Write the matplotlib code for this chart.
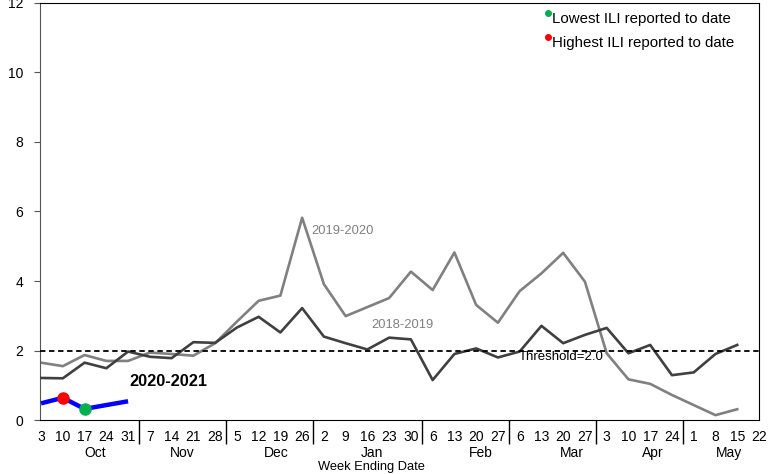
import matplotlib
matplotlib.use('Agg')
import matplotlib.pyplot as plt

# week labels (week ending date), Oct -> May
week_labels = ['3', '10', '17', '24', '31', '7', '14', '21', '28', '5', '12', '19', '26',
               '2', '9', '16', '23', '30', '6', '13', '20', '27', '6', '13', '20', '27',
               '3', '10', '17', '24', '1', '8', '15', '22']
months = ['Oct', 'Nov', 'Dec', 'Jan', 'Feb', 'Mar', 'Apr', 'May']
month_pos = [2.5, 6.5, 10.8, 15.2, 20.2, 24.4, 28.1, 31.6]
month_breaks = [4.5, 8.5, 12.5, 17.5, 21.5, 25.5, 29.5]

ili_2019_2020 = [1.65, 1.55, 1.87, 1.70, 1.70, 1.94, 1.90, 1.85, 2.21, 2.83, 3.43, 3.58, 5.82,
                 3.91, 2.99, 3.25, 3.51, 4.27, 3.74, 4.82, 3.31, 2.80, 3.71, 4.22, 4.81, 3.98,
                 1.92, 1.17, 1.04, 0.72, 0.43, 0.14, 0.31]
ili_2018_2019 = [1.21, 1.20, 1.65, 1.49, 1.97, 1.82, 1.78, 2.24, 2.22, 2.66, 2.97, 2.52, 3.22,
                 2.40, 2.21, 2.03, 2.37, 2.32, 1.15, 1.90, 2.06, 1.80, 1.97, 2.71, 2.21, 2.45,
                 2.65, 1.92, 2.16, 1.29, 1.37, 1.90, 2.16]
ili_2020_2021 = [0.48, 0.64, 0.32, 0.43, 0.54]
threshold = 2.0

plt.rcParams['font.family'] = ['Liberation Sans', 'DejaVu Sans']

fig = plt.figure(figsize=(7.81, 4.74), dpi=100)
ax = fig.add_axes([0.0512, 0.1139, 0.9206, 0.8798])

x_a = list(range(len(ili_2019_2020)))
x_b = list(range(len(ili_2018_2019)))
x_c = list(range(len(ili_2020_2021)))

ax.plot(x_a, ili_2019_2020, color='#808080', linewidth=1.9, zorder=2)
ax.plot(x_b, ili_2018_2019, color='#404040', linewidth=1.9, zorder=3)
ax.axhline(threshold, color='black', linestyle=(0, (3, 2)), linewidth=1.3, zorder=4)
ax.plot(x_c, ili_2020_2021, color='#0000FF', linewidth=3.2, zorder=5, solid_capstyle='butt')

# highest / lowest so far
i_hi = ili_2020_2021.index(max(ili_2020_2021))
i_lo = ili_2020_2021.index(min(ili_2020_2021))
ax.plot(i_hi, ili_2020_2021[i_hi], 'o', color='#FF0000', markersize=8, zorder=6)
ax.plot(i_lo, ili_2020_2021[i_lo], 'o', color='#00B050', markersize=8, zorder=6)

# series labels
ax.text(12.4, 5.45, '2019-2020', color='#808080', fontsize=9.3, va='center')
ax.text(15.2, 2.72, '2018-2019', color='#808080', fontsize=9.3, va='center')
ax.text(4.05, 1.1, '2020-2021', color='black', fontsize=11.8, fontweight='bold', va='center')
ax.text(23.9, 1.8, 'Threshold=2.0', color='black', fontsize=9.5, ha='center', va='center')

# legend-like notes
ax.plot([0.707], [0.976], 'o', color='#00B050', markersize=4, transform=ax.transAxes, clip_on=False)
ax.text(0.712, 0.962, 'Lowest ILI reported to date', fontsize=10.8, transform=ax.transAxes, va='center')
ax.plot([0.707], [0.919], 'o', color='#FF0000', markersize=4, transform=ax.transAxes, clip_on=False)
ax.text(0.712, 0.905, 'Highest ILI reported to date', fontsize=10.8, transform=ax.transAxes, va='center')

# axes
ax.set_xlim(-0.05, 33)
ax.set_ylim(0, 12)
ax.set_yticks([0, 2, 4, 6, 8, 10, 12])
ax.tick_params(axis='y', labelsize=10, length=4, color='#555555', pad=8)
ax.set_xticks(range(len(week_labels)))
ax.set_xticklabels(week_labels, fontsize=10)
ax.tick_params(axis='x', which='major', length=0, pad=7)
ax.set_xticks(month_breaks, minor=True)
ax.tick_params(axis='x', which='minor', length=17, width=1, color='black')

for name, pos in zip(months, month_pos):
    ax.text(pos, -0.078, name, transform=ax.get_xaxis_transform(), ha='center', va='center', fontsize=10)
ax.text(15.2, -0.112, 'Week Ending Date', transform=ax.get_xaxis_transform(), ha='center', va='center',
        fontsize=9.3)

ax.spines['left'].set_color('#555555')
for s in ['top', 'right', 'bottom']:
    ax.spines[s].set_color('black')

plt.savefig('out.png', dpi=100)
